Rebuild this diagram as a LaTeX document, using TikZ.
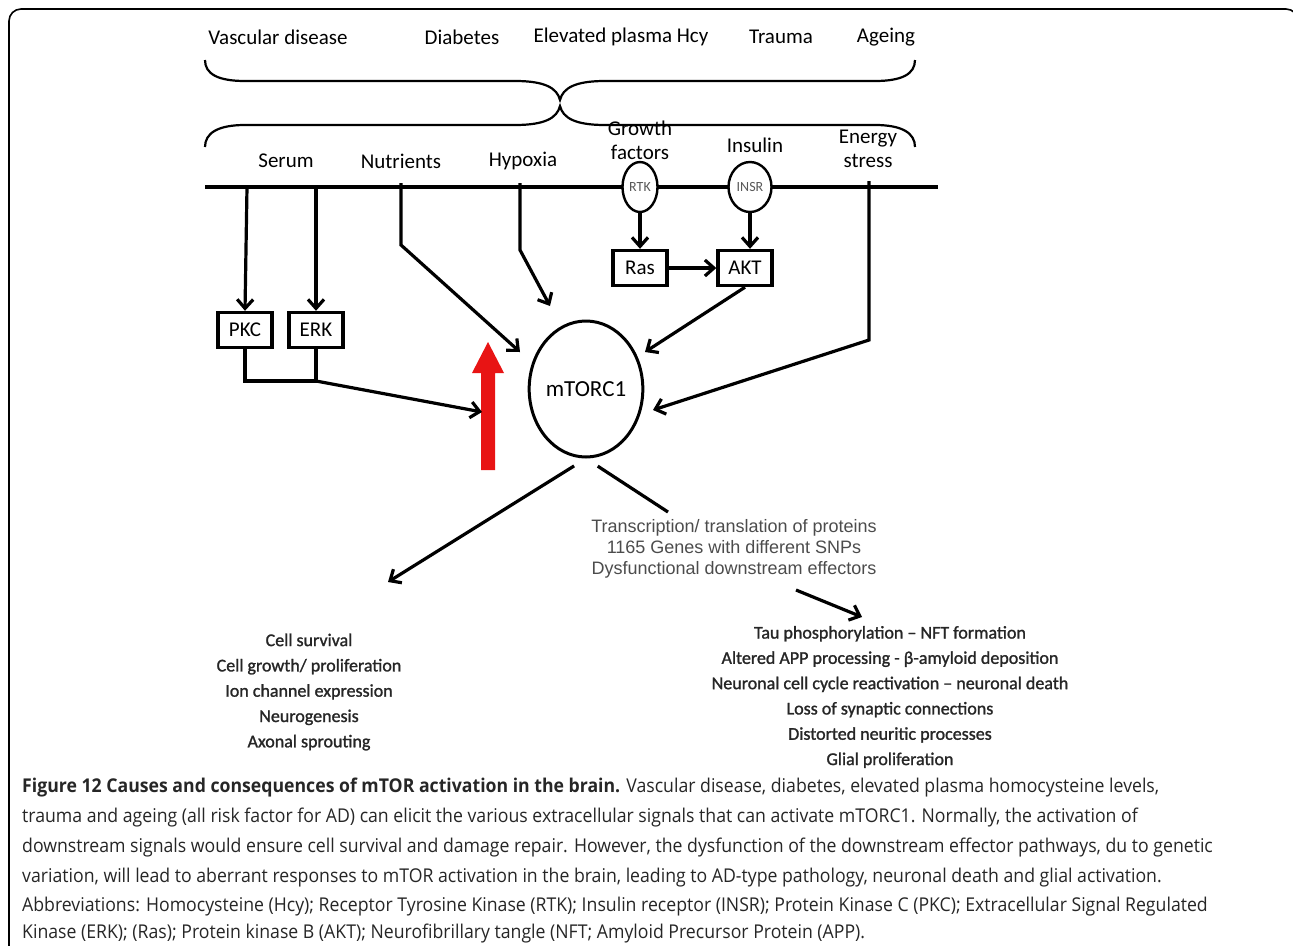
\documentclass[tikz,border=0pt]{standalone}
\usepackage{fontspec}
\setmainfont{Carlito}
\newfontfamily\lstf[FakeBold=1.3]{Carlito}
\newfontfamily\arialf{Liberation Sans}
\newfontfamily\capf[FakeStretch=0.93]{Open Sans}
\definecolor{redarr}{RGB}{232,20,20}
\usetikzlibrary{arrows.meta,shapes.geometric}
\begin{document}
\begin{tikzpicture}[x=1pt,y=-1pt,
  lbl/.style={font=\fontsize{21}{24}\selectfont, align=center, inner sep=0pt},
  lst/.style={font=\lstf\fontsize{18}{25.3}\selectfont, align=center, inner sep=0pt, text=black!85},
  ln/.style={line width=3.2pt},
  arr/.style={line width=3.2pt, -{Straight Barb[length=9pt,width=16pt,line width=3.2pt]}},
  boxn/.style={draw, line width=3.4pt, minimum width=54pt, minimum height=35pt, inner sep=0pt, font=\fontsize{21}{22}\selectfont},
  rec/.style={draw, line width=2.4pt, fill=white, ellipse, inner sep=0pt, text=black!65, font=\fontsize{14}{15}\selectfont},
  capl/.style={anchor=base west, inner sep=0pt, font=\capf\fontsize{19}{21}\selectfont, text=black!85}
]
\useasboundingbox (0,0) rectangle (1293,945);
% frame
\draw[line width=1.6pt, rounded corners=12pt] (9,950) -- (9,9) -- (1298,9) -- (1298,200);

% risk factors
\node[lbl] (vd) at (278,37) {Vascular disease};
\node[lbl] (db) at (462,37) {Diabetes};
\node[lbl] (hcy) at (621,37) {Elevated plasma Hcy};
\node[lbl] (tr) at (781,37) {Trauma};
\node[lbl] (ag) at (886,37) {Ageing};

% braces
\draw[line width=2.2pt] (205,60) .. controls (205,74) and (218,81) .. (245,81) -- (515,81)
   .. controls (545,81) and (557,88) .. (560,100)
   .. controls (563,88) and (575,81) .. (605,81) -- (875,81)
   .. controls (902,81) and (915,74) .. (915,60);
\draw[line width=2.2pt] (205,147) .. controls (205,133) and (218,125) .. (245,125) -- (515,125)
   .. controls (545,125) and (557,118) .. (560,106)
   .. controls (563,118) and (575,125) .. (605,125) -- (875,125)
   .. controls (902,125) and (915,133) .. (915,147);

% signals
\node[lbl] (serum) at (286,161) {Serum};
\node[lbl] (nutr) at (401,161) {Nutrients};
\node[lbl] (hyp) at (523,161) {Hypoxia};
\node[lbl] (gf) at (640,140) {Growth\\factors};
\node[lbl] (ins) at (755,145) {Insulin};
\node[lbl] (en) at (868,149) {Energy\\stress};

% membrane
\draw[line width=4pt] (205,187) -- (938,187);
\node[rec, minimum width=35pt, minimum height=50pt] (rtk) at (640,187) {RTK};
\node[rec, minimum width=43pt, minimum height=50pt] (insr) at (750,187) {INSR};

% boxes
\node[boxn] (pkc) at (245,330) {PKC};
\node[boxn] (erk) at (316,330) {ERK};
\node[boxn] (ras) at (640,268) {Ras};
\node[boxn] (akt) at (745,268) {AKT};

% mTORC1
\node[draw, ellipse, line width=3pt, minimum width=102pt, minimum height=136pt, inner sep=0pt, font=\fontsize{23}{24}\selectfont] (m) at (586,389) {mTORC1};

% red arrow
\fill[redarr] (481,470) -- (481,373) -- (472,373) -- (488,342) -- (504,373) -- (495,373) -- (495,470) -- cycle;

% coordinates
\coordinate (ms1) at (247,187);
\coordinate (ms2) at (316,187);
\coordinate (ms3) at (401,183);
\coordinate (ms4) at (520,183);
\coordinate (ms5) at (869,181);
\coordinate (j) at (316,381);
\coordinate (t1) at (482,412);
\coordinate (t2) at (520,352);
\coordinate (t3) at (550,306);
\coordinate (t4) at (645,352);
\coordinate (t5) at (653,410);
\coordinate (d1e) at (388,582);
\coordinate (d2e) at (668,512);
\coordinate (d3s) at (796,590);
\coordinate (d3e) at (862,617);

\draw[arr] (ms1) -- (pkc.north);
\draw[arr] (ms2) -- (erk.north);
\draw[ln] (pkc.south) |- (j) -- (erk.south);
\draw[arr] (j) -- (t1);
\draw[arr] (ms3) -- (401,245) -- (t2);
\draw[arr] (ms4) -- (520,250) -- (t3);
\draw[arr] (rtk.south) -- (ras.north);
\draw[arr] (insr.south) -- (insr.south |- akt.north);
\draw[arr] (ras.east) -- (akt.west);
\draw[arr] (akt.south) -- (t4);
\draw[arr] (ms5) -- (869,340) -- (t5);

% downstream
\draw[arr, shorten <=14pt] (m.south) -- (d1e);
\draw[ln, shorten <=14pt] (m.south) -- (d2e);
\node[font=\arialf\fontsize{18}{21}\selectfont, text=black!70, align=center, inner sep=0pt] (tx) at (734,549)
  {Transcription/ translation of proteins\\1165 Genes with different SNPs\\Dysfunctional downstream effectors};
\draw[arr] (d3s) -- (d3e);

\node[lst] (left) at (309,692) {Cell survival\\Cell growth/ proliferation\\Ion channel expression\\Neurogenesis\\Axonal sprouting};
\node[lst] (right) at (890,697) {Tau phosphorylation – NFT formation\\Altered APP processing - β-amyloid deposition\\Neuronal cell cycle reactivation – neuronal death\\Loss of synaptic connections\\Distorted neuritic processes\\Glial proliferation};

% caption
\node[capl] (c1) at (22,792) {\textbf{Figure 12 Causes and consequences of mTOR activation in the brain.} Vascular disease, diabetes, elevated plasma homocysteine levels,};
\node[capl] (c2) at (22,822) {trauma and ageing (all risk factor for AD) can elicit the various extracellular signals that can activate mTORC1. Normally, the activation of};
\node[capl] (c3) at (22,852) {downstream signals would ensure cell survival and damage repair. However, the dysfunction of the downstream effector pathways, du to genetic};
\node[capl] (c4) at (22,882) {variation, will lead to aberrant responses to mTOR activation in the brain, leading to AD-type pathology, neuronal death and glial activation.};
\node[capl] (c5) at (22,911) {Abbreviations: Homocysteine (Hcy); Receptor Tyrosine Kinase (RTK); Insulin receptor (INSR); Protein Kinase C (PKC); Extracellular Signal Regulated};
\node[capl] (c6) at (22,938) {Kinase (ERK); (Ras); Protein kinase B (AKT); Neurofibrillary tangle (NFT; Amyloid Precursor Protein (APP).};
\end{tikzpicture}
\end{document}
